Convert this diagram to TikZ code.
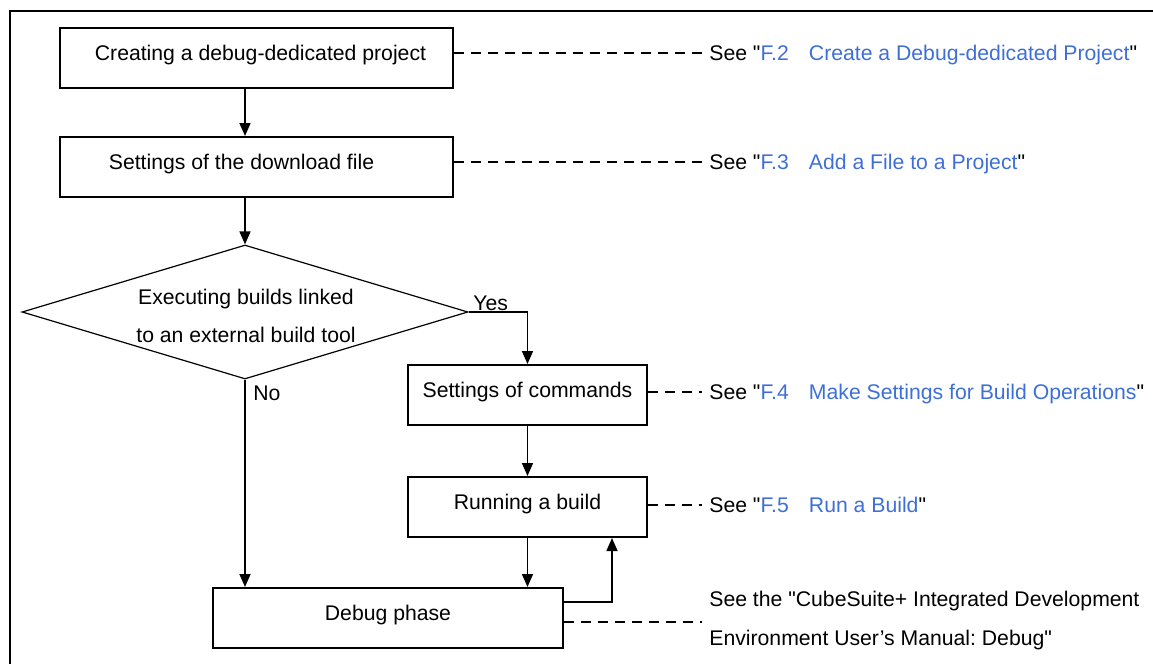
\documentclass[tikz,border=0pt]{standalone}
\usepackage{fontspec}
\setmainfont{Liberation Sans}[Ligatures=TeXOff]
\usetikzlibrary{shapes.geometric,arrows.meta}
\frenchspacing

\definecolor{borderColour}{HTML}{000000}
\definecolor{linkColour}{HTML}{3E6FD8}
\newcommand{\seeref}[2]{See "\textcolor{linkColour}{#1}\hspace{0.95em}\textcolor{linkColour}{#2}"}

\begin{document}
\begin{tikzpicture}[x=0.5pt, y=-0.5pt, font=\fontsize{10.6}{19}\selectfont,
    box/.style={draw=borderColour, line width=1pt, minimum height=30pt, inner sep=0pt, text height=8pt, text depth=5.5pt},
    flow/.style={line width=0.8pt, -{Triangle[width=5.5pt,length=6.5pt]}},
    refline/.style={dash pattern=on 5pt off 3.5pt, line width=0.8pt, shorten >=3.5pt},
    reftext/.style={anchor=west, inner sep=0pt, text height=7.6pt, text depth=0pt}]
    \useasboundingbox (0,0) rectangle (1153,664);

    % Draw frame
    \draw[line width=1pt] (10,664) -- (10,11) -- (1153,11);

    % Steps
    \node[box, minimum width=196.5pt] (create) at (256.5,58) {\hspace*{4pt}Creating a debug-dedicated project};
    \node[box, minimum width=196.5pt] (download) at (256.5,167) {\hspace*{-15pt}Settings of the download file};
    \node[draw=borderColour, diamond, line width=0.6pt, minimum width=223pt, minimum height=67pt, inner sep=0pt] (cond) at (245,312) {};
    \node[align=center, inner sep=0pt] (condtext) at (246,316) {Executing builds linked\\to an external build tool};
    \node[box, minimum width=119.5pt] (commands) at (527.5,395) {Settings of commands};
    \node[box, minimum width=119.5pt] (build) at (527.5,507) {Running a build};
    \node[box, minimum width=175pt] (debug) at (388,618) {Debug phase};

    % Branch labels
    \node[reftext] (yes) at (473,303) {Yes};
    \node[reftext] (no) at (253,393) {No};

    % Draw flow
    \draw[flow] (create.south -| cond.north) -- (download.north -| cond.north);
    \draw[flow] (download.south -| cond.north) -- (cond.north);
    \draw[flow] (cond.east) -| (commands.north);
    \draw[flow] (cond.south) -- (cond.south |- debug.north);
    \draw[flow] (commands.south) -- (build.north);
    \draw[flow] (build.south) -- (build.south |- debug.north);
    \coordinate (loop) at (612,602);
    \draw[flow] (loop -| debug.east) -- (loop) -- (loop |- build.south);

    % References
    \node[reftext] (refA) at (709,53) {\seeref{F.2}{Create a Debug-dedicated Project}};
    \node[reftext] (refB) at (709,162) {\seeref{F.3}{Add a File to a Project}};
    \node[reftext] (refC) at (709,392) {\seeref{F.4}{Make Settings for Build Operations}};
    \node[reftext] (refD) at (709,505) {\seeref{F.5}{Run a Build}};
    \node[reftext] (refE) at (709,599) {See the "CubeSuite+ Integrated Development};
    \node[reftext] (refF) at (709,638) {Environment User’s Manual: Debug"};

    \draw[refline] (create.east |- refA.west) -- (refA.west);
    \draw[refline] (download.east |- refB.west) -- (refB.west);
    \draw[refline] (commands.east |- refC.west) -- (refC.west);
    \draw[refline] (build.east |- refD.west) -- (refD.west);
    \coordinate (debugref) at (709,622);
    \draw[refline] (debugref -| debug.east) -- (debugref);

\end{tikzpicture}
\end{document}
